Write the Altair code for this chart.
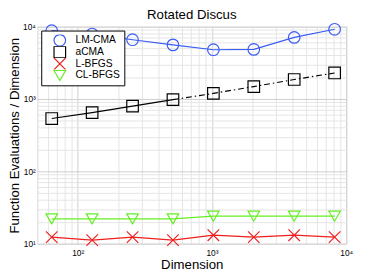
import altair as alt
import pandas as pd

dims = [64, 128, 256, 512, 1024, 2048, 4096, 8192]
lmcma = [8800, 7900, 6600, 5600, 4800, 4850, 7100, 9200]
acma = [537, 647, 797, 980, 1195, 1484, 1860, 2290]
lbfgs = [12.3, 11.2, 12.3, 11.2, 13.1, 12.3, 13.1, 12.3]
clbfgs = [22, 22, 22, 22, 24, 24, 24, 24]

series = ["LM-CMA", "aCMA", "L-BFGS", "CL-BFGS"]
colors = ["#3a5cf5", "#000000", "#f01e1e", "#66ee22"]
shapes = ["circle", "square", "M-1,-1L1,1M-1,1L1,-1", "triangle-down"]
allvals = [lmcma, acma, lbfgs, clbfgs]

rows = []
for name, vals in zip(series, allvals):
    for d, v in zip(dims, vals):
        rows.append({"dim": d, "val": v, "series": name})
df = pd.DataFrame(rows)

xticks = [m * 10 ** e for e in [1, 2, 3] for m in range(1, 10)] + [10000]
xticks = [t for t in xticks if t >= 50]
yticks = [m * 10 ** e for e in [1, 2, 3] for m in range(1, 10)] + [10000]

lab = ("datum.value == 10 ? '10¹' : datum.value == 100 ? '10²' : datum.value == 1000 ? '10³' : "
       "datum.value == 10000 ? '10⁴' : ''")
gridc = {"condition": {"test": "datum.value == 10 || datum.value == 100 || datum.value == 1000 || datum.value == 10000",
                       "value": "#cfcfcf"}, "value": "#e4e4e4"}

xenc = alt.X("dim:Q", scale=alt.Scale(type="log", domain=[50, 10000], nice=False),
             axis=alt.Axis(values=xticks, labelExpr=lab, title="Dimension", ticks=False,
                           labelOverlap=False, labelFlush=False, gridColor=gridc,
                           labelFontSize=8.5, titleFontSize=13.5, titleFontWeight="normal",
                           labelPadding=5, titlePadding=1, domain=False))
yenc = alt.Y("val:Q", scale=alt.Scale(type="log", domain=[10, 10000], nice=False),
             axis=alt.Axis(values=yticks, labelExpr=lab, title="Function Evaluations / Dimension",
                           ticks=False, labelOverlap=False, labelFlush=False, gridColor=gridc,
                           labelFontSize=8.5, titleFontSize=13.5, titleFontWeight="normal",
                           labelPadding=2, titlePadding=1, domain=False))

layers = []
for name, col, vals in zip(series, colors, allvals):
    if name == "aCMA":
        a = pd.DataFrame({"dim": dims[:4], "val": vals[:4]})
        b = pd.DataFrame({"dim": dims[3:], "val": vals[3:]})
        layers.append(alt.Chart(a).mark_line(strokeWidth=1.2, color=col).encode(x=xenc, y=yenc))
        layers.append(alt.Chart(b).mark_line(strokeWidth=1.2, color=col,
                                             strokeDash=[6, 3, 1.5, 3]).encode(x=xenc, y=yenc))
    else:
        d = pd.DataFrame({"dim": dims, "val": vals})
        layers.append(alt.Chart(d).mark_line(strokeWidth=1.2, color=col).encode(x=xenc, y=yenc))

cscale = alt.Scale(domain=series, range=colors)
leg = alt.Legend(title=None, orient="top-left", offset=4,
                 fillColor="white", strokeColor="black", padding=4,
                 labelFontSize=10.5, symbolSize=140, symbolStrokeWidth=1.2,
                 rowPadding=0, clipHeight=12, labelOffset=9, symbolOffset=8)

points = alt.Chart(df).mark_point(filled=False, strokeWidth=1.2, size=140, opacity=1).encode(
    x=xenc, y=yenc,
    color=alt.Color("series:N", scale=cscale, sort=series, legend=leg),
    shape=alt.Shape("series:N", scale=alt.Scale(domain=series, range=shapes), sort=series, legend=leg),
)
layers.append(points)

chart = alt.layer(*layers).properties(
    width=316, height=222,
    title=alt.Title("Rotated Discus", fontSize=13.5, fontWeight="normal", offset=0, frame="group"),
    autosize=alt.AutoSizeParams(type="none"),
    padding={"left": 30, "top": 16, "right": 11, "bottom": 31},
).configure_view(stroke="black", strokeWidth=1).configure(
    font="Liberation Sans"
)

chart.save("out.html", embed_options={"renderer": "svg", "actions": False})
